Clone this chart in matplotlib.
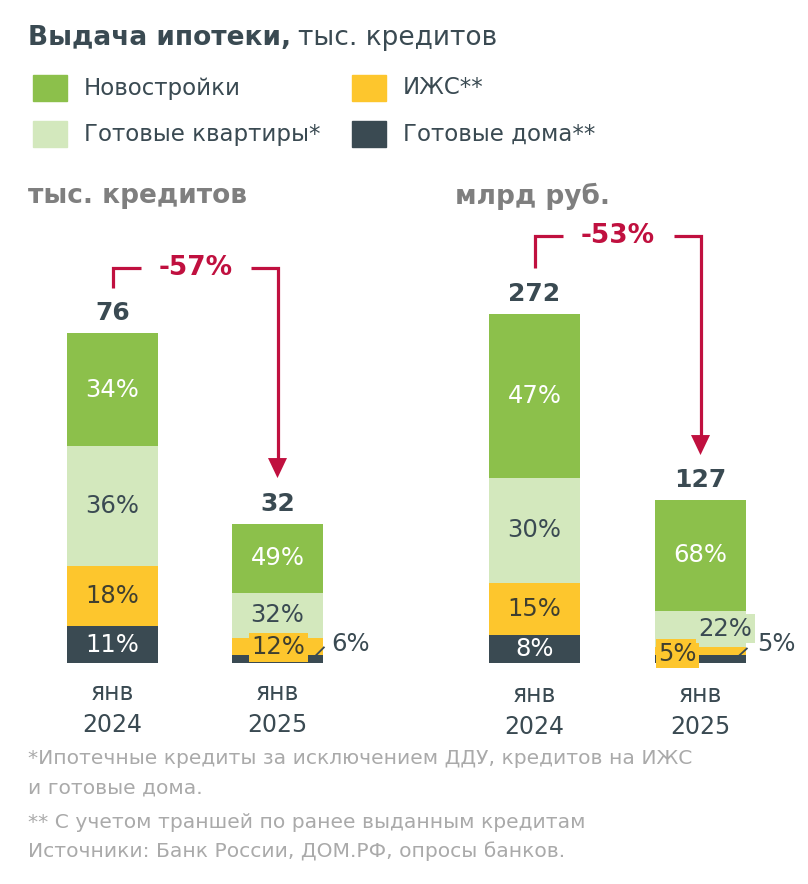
import matplotlib
matplotlib.use("Agg")
import matplotlib.pyplot as plt
from matplotlib.patches import Rectangle, Polygon

plt.rcParams['font.family'] = ['DejaVu Sans']

# данные
periods = ["янв\n2024", "янв\n2025"]
segments = ["Готовые дома**", "ИЖС**", "Готовые квартиры*", "Новостройки"]
loans_total = [76, 32]            # тыс. кредитов
loans_share = {                   # доли, %
    "Готовые дома**": [11, 6],
    "ИЖС**": [18, 12],
    "Готовые квартиры*": [36, 32],
    "Новостройки": [34, 49],
}
money_total = [272, 127]          # млрд руб.
money_share = {
    "Готовые дома**": [8, 5],
    "ИЖС**": [15, 5],
    "Готовые квартиры*": [30, 22],
    "Новостройки": [47, 68],
}
loans_change = "-57%"
money_change = "-53%"

colors = {
    "Новостройки": "#8cc04b",
    "Готовые квартиры*": "#d3e8bd",
    "ИЖС**": "#fdc62d",
    "Готовые дома**": "#3a4a52",
}
txt_colors = {
    "Новостройки": "white",
    "Готовые квартиры*": "#3a4a52",
    "ИЖС**": "#3f3f30",
    "Готовые дома**": "white",
}
DARK = "#3a4a52"
RED = "#c0103f"
GREY = "#7f7f7f"
FOOT = "#aaaaaa"

W, H = 808, 884
fig = plt.figure(figsize=(W / 100, H / 100), dpi=100)


def fx(x):
    return x / W


def fy(y):
    return 1 - y / H


# заголовок и легенда
t1 = fig.text(fx(28), fy(38), "Выдача ипотеки,", fontsize=19,
              fontweight="bold", color=DARK, va="center", ha="left")
rend = fig.canvas.get_renderer()
bb = t1.get_window_extent(renderer=rend)
fig.text(bb.x1 / W + fx(7), fy(38), "тыс. кредитов", fontsize=19, color=DARK,
         va="center", ha="left")

legend_pos = {
    "Новостройки": (33, 88),
    "Готовые квартиры*": (33, 134),
    "ИЖС**": (352, 88),
    "Готовые дома**": (352, 134),
}
for name, (lx, ly) in legend_pos.items():
    fig.add_artist(Rectangle((fx(lx), fy(ly + 13)), fx(34), 26 / H,
                             transform=fig.transFigure, color=colors[name]))
    fig.text(fx(lx + 51), fy(ly), name, fontsize=16.5, color=DARK,
             va="center", ha="left")

fig.text(fx(28), fy(196), "тыс. кредитов", fontsize=19, fontweight="bold",
         color=GREY, va="center")
fig.text(fx(455), fy(196), "млрд руб.", fontsize=19, fontweight="bold",
         color=GREY, va="center")

base_px = 663
ax_h = 450
PCT = 17.5


def panel(left, right, c0, step, px_per_unit, totals, shares, change,
          small_labels, outside, bracket, lab_dy):
    ax = fig.add_axes([fx(left), fy(base_px), fx(right - left), ax_h / H])
    ax.patch.set_alpha(0)
    ymax = ax_h / px_per_unit
    ax.set_xlim((left - c0) / step, (right - c0) / step)
    ax.set_ylim(0, ymax)
    ax.axis("off")
    width = 91 / step
    du = 1 / px_per_unit  # данные на пиксель
    for i in range(len(totals)):
        s = sum(shares[k][i] for k in segments)
        bottom = 0
        for k in segments:
            h = totals[i] * shares[k][i] / s
            ax.bar(i, h, width=width, bottom=bottom, color=colors[k],
                   linewidth=0)
            key = (i, k)
            mid = bottom + h / 2
            if key in small_labels:
                dx, dy, bg = small_labels[key]
                ax.text(i + dx / step, mid + dy * du, f"{shares[k][i]}%",
                        ha="center", va="center", fontsize=PCT,
                        color=txt_colors[k],
                        bbox=dict(boxstyle="square,pad=0.1", fc=bg, ec="none"))
            elif key in outside:
                (x0, y0), (x1, y1), (tx, ty) = outside[key]
                ax.plot([i + x0 / step, i + x1 / step],
                        [mid + y0 * du, mid + y1 * du],
                        color=DARK, lw=1.3, solid_capstyle="butt")
                ax.text(i + tx / step, mid + ty * du, f"{shares[k][i]}%",
                        ha="center", va="center", fontsize=PCT, color=DARK)
            else:
                ax.text(i, mid, f"{shares[k][i]}%", ha="center",
                        va="center", fontsize=PCT, color=txt_colors[k])
            bottom += h
        ax.text(i, totals[i] + 20 * du, str(totals[i]), ha="center",
                va="center", fontsize=18, fontweight="bold", color=DARK)
        ax.text(i, -(46 + lab_dy) * du, periods[i], ha="center",
                va="center", fontsize=17, color=DARK, linespacing=1.45)
    # скобка со стрелкой
    y_start, y_top, gap_l, gap_r, tip = bracket
    top = totals[0] + y_top * du
    xm0 = gap_l / step
    xm1 = 1 - gap_r / step
    ax.plot([0, 0, xm0], [totals[0] + y_start * du, top, top], color=RED,
            lw=2.3, solid_joinstyle="miter", solid_capstyle="butt")
    tip_y = totals[1] + tip * du
    ax.plot([xm1, 1, 1], [top, top, tip_y + 16 * du], color=RED, lw=2.3,
            solid_joinstyle="miter", solid_capstyle="butt")
    ax.add_patch(Polygon([(1 - 9.5 / step, tip_y + 20 * du),
                          (1 + 9.5 / step, tip_y + 20 * du), (1, tip_y)],
                         closed=True, color=RED, lw=0))
    ax.text((xm0 + xm1) / 2, top, change, ha="center", va="center",
            fontsize=19, fontweight="bold", color=RED)
    return ax


panel(20, 390, 112.5, 165, 330 / 76, loans_total, loans_share, loans_change,
      small_labels={(1, "ИЖС**"): (1, -1, colors["ИЖС**"])},
      outside={(1, "Готовые дома**"): ((35, 0), (47, 12), (73, 15))},
      bracket=(45, 65, 28, 27, 46), lab_dy=0)

panel(440, 800, 534.5, 166, 349 / 272, money_total, money_share,
      money_change,
      small_labels={(1, "ИЖС**"): (-23, -3, colors["ИЖС**"]),
                    (1, "Готовые квартиры*"): (25, 0,
                                               colors["Готовые квартиры*"])},
      outside={(1, "Готовые дома**"): ((35, 0), (47, 11), (76, 15))},
      bracket=(46, 78, 28, 27, 45), lab_dy=2)

foot = [
    (758, "*Ипотечные кредиты за исключением ДДУ, кредитов на ИЖС"),
    (788, "и готовые дома."),
    (822, "** С учетом траншей по ранее выданным кредитам"),
    (851, "Источники: Банк России, ДОМ.РФ, опросы банков."),
]
for y, t in foot:
    fig.text(fx(28), fy(y), t, fontsize=14.6, color=FOOT, va="center")

fig.savefig("out.png", dpi=100, facecolor="white")
